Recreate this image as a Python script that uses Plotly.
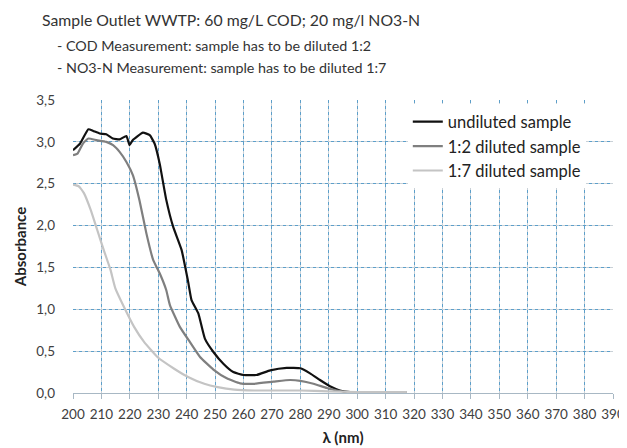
import plotly.graph_objects as go

# Wavelength (nm) / absorbance readings
wl_undiluted = [200, 202.5, 205.4, 207.1, 209.4, 211.7, 214, 216.4, 218.8, 219.9, 221, 224.6, 227, 228.7,
                230.5, 232.8, 235.2, 238.2, 240.5, 241.7, 244.1, 246.4, 249.4, 252.9, 256.4, 260, 264.6,
                269.4, 275.2, 280, 283.4, 286.9, 290.4, 293.9, 297.5, 305, 317.5]
abs_undiluted = [2.90, 2.98, 3.15, 3.13, 3.10, 3.09, 3.04, 3.03, 3.07, 2.96, 3.02, 3.11, 3.08, 2.98,
                 2.74, 2.31, 1.99, 1.71, 1.33, 1.11, 0.95, 0.65, 0.49, 0.35, 0.25, 0.215, 0.215,
                 0.27, 0.30, 0.295, 0.235, 0.155, 0.08, 0.03, 0.01, 0.01, 0.01]

wl_1to2 = [200, 201.6, 203.5, 205.4, 208.3, 211.7, 214.1, 216.4, 218.8, 221.1, 223.4, 225.8, 228.2,
           230.5, 232.8, 234.1, 237.6, 241.1, 244.7, 249.4, 254.1, 258.8, 263.5, 270.5, 276.4, 280,
           284.6, 289.3, 292.8, 297.5, 305, 317.5]
abs_1to2 = [2.84, 2.86, 2.98, 3.04, 3.02, 3.00, 2.96, 2.88, 2.76, 2.60, 2.30, 1.91, 1.59,
            1.43, 1.23, 1.05, 0.79, 0.61, 0.43, 0.28, 0.175, 0.115, 0.11, 0.135, 0.155, 0.145,
            0.11, 0.06, 0.03, 0.01, 0.01, 0.01]

wl_1to7 = [200, 202, 203.8, 206.2, 208.5, 210.8, 213.2, 214.9, 217.9, 221.5, 225, 229.7, 235.6,
           240.3, 246.2, 250.9, 256.8, 263.8, 280, 290, 300, 317.5]
abs_1to7 = [2.49, 2.47, 2.39, 2.19, 1.95, 1.71, 1.47, 1.25, 1.03, 0.79, 0.61, 0.43, 0.29,
            0.195, 0.11, 0.07, 0.04, 0.03, 0.03, 0.02, 0.01, 0.01]

series_names = ["undiluted sample", "1:2 diluted sample", "1:7 diluted sample"]
series_colors = ["#111111", "#7f7f7f", "#c4c4c4"]

x_ticks = list(range(200, 391, 10))
y_ticks = [0, 0.5, 1.0, 1.5, 2.0, 2.5, 3.0, 3.5]

# The page body has an 8px margin, so the figure is 8px smaller and all
# pixel positions are offset by -8.
OFF = 8
W, H = 627 - OFF, 448 - OFF
L, T = 73 - OFF, 100 - OFF
PW, PH = 540, 293
R, B = W - L - PW, H - T - PH

fig = go.Figure()

# invisible trace on overlay axes so the dotted blue grid layer is drawn
fig.add_trace(go.Scatter(x=[200], y=[0], xaxis="x2", yaxis="y2", mode="markers",
                         marker=dict(opacity=0), showlegend=False, hoverinfo="skip"))

for name, xs, ys, col in zip(series_names, [wl_undiluted, wl_1to2, wl_1to7],
                             [abs_undiluted, abs_1to2, abs_1to7], series_colors):
    fig.add_trace(go.Scatter(x=xs, y=ys, mode="lines", name=name,
                             line=dict(color=col, width=2.2, shape="spline", smoothing=0.4)))

font_family = "Lato, 'Open Sans', sans-serif"

fig.update_layout(
    width=W, height=H,
    margin=dict(l=L, r=R, t=T, b=B, autoexpand=False),
    paper_bgcolor="white", plot_bgcolor="white",
    separators=",.",
    font=dict(family=font_family, color="#333333", size=13),
    showlegend=True,
    legend=dict(x=0.62, y=0.985, xanchor="left", yanchor="top", bgcolor="white",
                font=dict(size=16.5, color="#222222"), tracegroupgap=0, itemwidth=30),
    xaxis=dict(range=[200, 390], tickvals=x_ticks, showgrid=True, gridcolor="#c9d1d7",
               gridwidth=1, zeroline=False, showline=True, linecolor="#a8b8c4",
               ticks="outside", ticklen=5, tickcolor="#a8b8c4", automargin=False,
               tickfont=dict(size=13.5, color="#404040"), ticklabelstandoff=4,
               title=dict(text="<b>λ (nm)</b>", font=dict(size=15, color="#222222"), standoff=11)),
    yaxis=dict(range=[0, 3.5], tickvals=y_ticks, tickformat=".1f", showgrid=True, gridcolor="#c9d1d7",
               gridwidth=1, zeroline=False, showline=False, automargin=False,
               ticks="", tickfont=dict(size=13.5, color="#404040"), ticklabelstandoff=17,
               title=dict(text="<b>Absorbance</b>", font=dict(size=15, color="#222222"), standoff=6)),
    xaxis2=dict(range=[200, 390], tickvals=x_ticks, overlaying="x", showgrid=True,
                gridcolor="#5c9fca", griddash="dot", gridwidth=1, showticklabels=False,
                zeroline=False, showline=False, automargin=False),
    yaxis2=dict(range=[0, 3.5], tickvals=y_ticks, overlaying="y", showgrid=True,
                gridcolor="#5c9fca", griddash="dot", gridwidth=1, showticklabels=False,
                zeroline=False, showline=False, automargin=False),
)

def px(xp):
    return (xp - OFF - L) / PW
def py(yp):
    return (T + PH - (yp - OFF)) / PH

fig.add_annotation(text="Sample Outlet WWTP: 60 mg/L COD; 20 mg/l NO3-N", x=px(40), y=py(19),
                   xref="paper", yref="paper", showarrow=False, xanchor="left", yanchor="middle",
                   font=dict(size=15.8, color="#333333"))
fig.add_annotation(text="- COD Measurement: sample has to be diluted 1:2", x=px(55), y=py(46),
                   xref="paper", yref="paper", showarrow=False, xanchor="left", yanchor="middle",
                   font=dict(size=14.3, color="#333333"))
fig.add_annotation(text="- NO3-N Measurement: sample has to be diluted 1:7", x=px(55), y=py(67),
                   xref="paper", yref="paper", showarrow=False, xanchor="left", yanchor="middle",
                   font=dict(size=14.3, color="#333333"))

fig.write_html("out.html")
